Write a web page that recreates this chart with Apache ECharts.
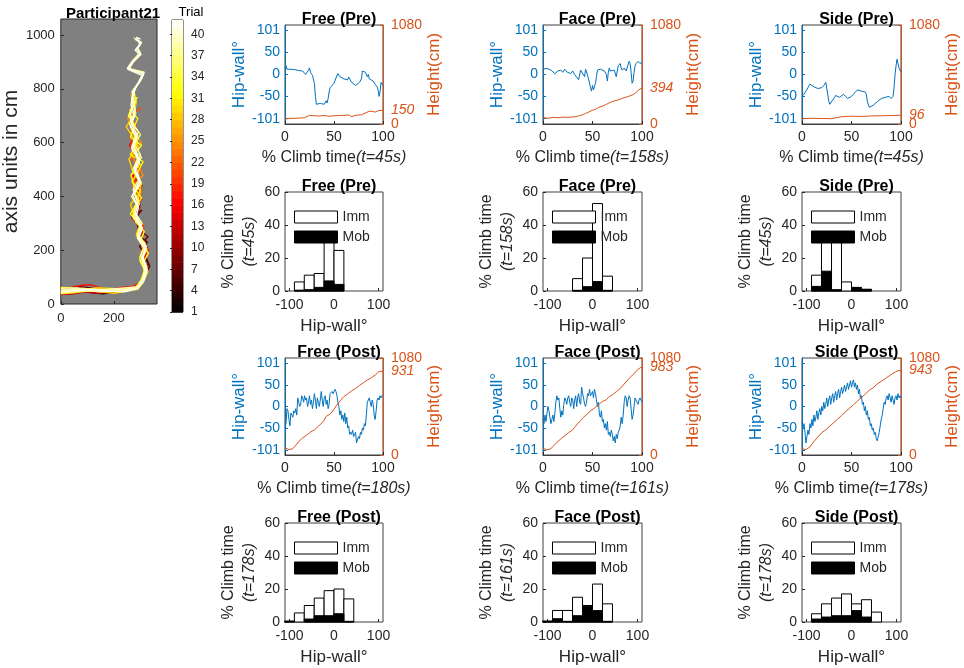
<!DOCTYPE html>
<html><head><meta charset="utf-8">
<script src="https://cdn.jsdelivr.net/npm/echarts@6/dist/echarts.min.js"></script>
<style>html,body{margin:0;padding:0;background:#fff}#c{width:964px;height:668px}</style>
</head><body><div id="c"></div><script>
// ---------------- DATA ----------------
// Trajectories (x, y in cm) with their trial numbers
const trajTrials = [3, 8, 13, 17, 21, 25, 29, 31, 33, 35, 37, 39, 40, 42];
const traj3 = [[0,40],[40,45],[80,50],[120,42],[160,38],[200,45],[240,50],[280,55],[300,75],[315,110],[330,150],[305,190],[325,230],[285,260],[300,300],[275,330],[298,370],[270,400]];
const traj8 = [[0,55],[30,58],[60,65],[100,62],[140,55],[180,50],[220,55],[260,60],[295,70],[310,100],[335,140],[318,180],[296,215],[328,250],[292,280],[282,320],[305,350],[268,330],[300,410]];
const traj13 = [[0,35],[50,38],[90,45],[130,40],[170,42],[210,48],[250,52],[290,58],[312,90],[322,130],[300,170],[326,210],[286,250],[308,290],[266,320],[298,360],[282,400],[306,440],[272,470],[290,520]];
const traj17 = [[0,60],[40,62],[80,70],[110,72],[150,60],[190,55],[230,62],[270,65],[300,80],[320,120],[306,160],[330,200],[296,240],[312,280],[276,310],[270,350],[305,390],[288,430],[266,470],[298,510],[278,560],[258,590],[290,640]];
const traj21 = [[0,45],[40,48],[80,52],[120,55],[160,48],[200,50],[240,58],[280,62],[305,85],[318,125],[298,165],[322,200],[292,245],[312,290],[272,330],[292,380],[304,420],[276,460],[302,500],[266,540],[288,580],[260,620],[284,660],[256,700],[305,730]];
const traj25 = [[0,50],[40,55],[90,58],[140,50],[190,45],[240,52],[285,60],[308,95],[325,140],[298,185],[320,225],[284,265],[304,300],[266,340],[292,390],[272,440],[310,480],[284,520],[262,560],[304,600],[268,640],[252,690],[280,740],[262,780]];
const traj29 = [[0,38],[50,42],[100,48],[150,45],[200,40],[250,48],[290,55],[310,80],[328,120],[302,160],[318,210],[288,250],[302,290],[276,330],[262,370],[294,410],[304,450],[272,490],[256,540],[294,580],[272,620],[246,660],[274,700],[284,750],[268,790]];
const traj31 = [[0,62],[40,60],[90,55],[140,60],[190,58],[240,55],[282,62],[302,90],[316,130],[296,170],[314,215],[284,255],[298,295],[262,335],[286,375],[300,420],[268,455],[292,495],[310,530],[262,555],[288,600],[270,645],[290,690],[260,720],[284,760]];
const traj33 = [[0,48],[40,52],[80,58],[130,55],[180,50],[230,55],[275,58],[300,70],[318,105],[308,150],[330,190],[298,230],[314,270],[282,305],[272,350],[304,395],[278,430],[264,480],[298,520],[278,560],[304,590],[262,620],[278,665],[254,700],[274,745],[288,770]];
const traj35 = [[0,40],[50,44],[100,52],[150,50],[200,46],[250,50],[290,60],[306,85],[322,128],[304,168],[324,205],[292,248],[300,290],[270,328],[296,372],[278,412],[302,452],[270,500],[292,540],[276,590],[300,630],[272,668],[262,710],[282,752],[276,790]];
const traj37 = [[0,42],[40,45],[90,48],[140,52],[190,48],[240,50],[285,55],[305,80],[322,115],[298,160],[320,195],[292,240],[306,285],[272,320],[288,365],[266,400],[298,445],[278,500],[304,545],[266,580],[282,630],[258,670],[282,710],[266,760],[276,800],[300,830],[312,860],[252,878],[270,905],[298,935],[285,948],[300,970],[275,990]];
const traj39 = [[0,58],[60,60],[120,52],[180,55],[240,60],[288,64],[308,95],[320,140],[300,178],[318,220],[290,260],[306,300],[276,345],[290,385],[272,425],[296,465],[282,510],[300,555],[274,600],[292,640],[264,680],[280,720],[270,770],[282,805],[304,838],[314,862],[256,874],[274,902],[302,928],[290,952],[304,972],[282,982]];
const traj40 = [[0,52],[50,55],[100,50],[150,45],[200,52],[250,55],[290,60],[310,90],[318,135],[305,175],[322,215],[290,255],[300,295],[280,335],[290,375],[275,415],[298,460],[275,505],[290,545],[272,590],[290,625],[268,665],[260,705],[275,745],[268,790],[290,820],[305,850],[255,872],[272,900],[300,930],[288,950],[302,975],[280,985]];
const traj42 = [[0,45],[60,50],[120,55],[180,48],[240,45],[290,58],[312,85],[325,130],[310,170],[318,210],[288,245],[308,280],[282,320],[292,360],[270,405],[300,450],[278,495],[296,535],[268,575],[285,620],[262,660],[278,700],[264,740],[272,785],[285,810],[312,855],[250,875],[265,895],[296,928],[280,945],[298,965],[285,992],[300,985]];
const trajectories = [traj3, traj8, traj13, traj17, traj21, traj25, traj29, traj31, traj33, traj35, traj37, traj39, traj40, traj42];

// colour bar levels
const trialLevels = [1,2,3,4,5,6,7,8,9,10,11,12,13,14,15,16,17,18,19,20,21,22,23,24,25,26,27,28,29,30,31,32,33,34,35,36,37,38,39,40,41];

// Hip-wall angle (deg) vs % climb time
const hipFreePre = [[0,15],[1,20],[2,12],[4,10],[6,12],[8,10],[10,11],[12,10],[14,9],[16,7],[18,8],[20,5],[21,0],[22,3],[24,10],[25,15],[26,5],[28,-2],[29,-5],[30,-20],[31,-50],[32,-68],[34,-70],[36,-66],[38,-66],[40,-68],[42,-60],[43,-65],[44,-55],[45,-40],[46,-30],[47,-28],[48,-30],[50,-20],[52,-8],[54,2],[55,-2],[56,-5],[58,-8],[60,-10],[62,-8],[64,-12],[65,-6],[66,-10],[68,-18],[70,-15],[72,-25],[74,-22],[76,-18],[78,-10],[79,8],[80,10],[82,5],[84,-5],[85,0],[86,-10],[88,-12],[90,-15],[92,-22],[94,-28],[95,-35],[96,-50],[97,-40],[98,-18],[99,-22],[100,-25]];
const hipFacePre = [[0,12],[2,15],[4,14],[6,12],[8,10],[10,8],[12,2],[14,0],[15,8],[16,5],[18,10],[20,5],[22,12],[24,6],[26,10],[28,2],[30,8],[32,0],[34,-2],[36,-12],[38,10],[40,8],[42,-5],[43,12],[44,6],[46,-10],[48,-30],[49,-38],[50,-25],[51,-35],[52,-37],[53,-20],[54,-5],[55,10],[56,8],[58,12],[60,10],[62,8],[64,0],[65,-15],[66,5],[67,15],[68,8],[70,5],[72,10],[74,-5],[76,20],[78,25],[79,15],[80,10],[82,15],[84,8],[86,10],[87,30],[88,25],[89,5],[90,-20],[91,-15],[92,5],[93,20],[94,25],[96,30],[98,25],[100,28]];
const hipSidePre = [[0,-50],[2,-45],[4,-38],[6,-30],[8,-22],[9,-20],[10,-25],[12,-28],[14,-30],[16,-32],[18,-35],[20,-30],[22,-25],[24,-18],[25,-22],[26,-45],[27,-60],[28,-68],[30,-70],[32,-55],[34,-48],[36,-45],[38,-52],[40,-48],[42,-45],[44,-50],[46,-55],[48,-58],[50,-50],[52,-45],[54,-40],[56,-35],[58,-32],[60,-38],[62,-42],[64,-40],[65,-45],[66,-62],[68,-75],[70,-72],[72,-70],[74,-68],[76,-62],[78,-65],[80,-55],[82,-58],[84,-52],[86,-55],[88,-50],[90,-55],[92,-50],[93,-30],[94,0],[95,20],[96,35],[97,25],[98,15],[100,5]];
const hipFreePost = [[0,-50],[1,-40],[2,-5],[3,-10],[4,-30],[5,-45],[6,-15],[7,-20],[8,-25],[9,-10],[10,-15],[11,-5],[12,-20],[13,20],[14,10],[15,0],[16,5],[17,25],[18,20],[19,10],[20,25],[21,15],[22,20],[23,0],[24,10],[25,25],[26,5],[27,15],[28,-5],[29,10],[30,30],[31,15],[32,-5],[33,20],[34,10],[35,0],[36,15],[37,35],[38,15],[39,0],[40,20],[41,25],[42,5],[43,15],[44,-5],[45,5],[46,30],[48,35],[49,30],[50,35],[51,40],[52,35],[53,25],[54,10],[55,0],[56,-20],[57,-10],[58,-30],[59,-20],[60,-35],[61,-15],[62,-40],[63,-25],[64,-50],[65,-45],[66,-65],[67,-60],[68,-65],[69,-55],[70,-70],[71,-65],[72,-60],[73,-85],[74,-88],[75,-70],[76,-75],[77,-60],[78,-65],[79,-50],[80,-55],[81,-40],[82,-45],[83,-20],[84,10],[85,15],[86,20],[87,10],[88,0],[89,15],[90,5],[91,-20],[92,-30],[93,-10],[94,15],[95,20],[96,15],[97,25],[98,20],[99,25],[100,28]];
const hipFacePost = [[0,-30],[1,-40],[2,-20],[3,-35],[4,-15],[5,0],[6,-10],[7,-25],[8,-40],[9,-30],[10,-20],[11,-35],[12,-15],[13,10],[14,25],[15,15],[16,20],[17,-5],[18,-25],[19,-10],[20,-20],[21,5],[22,20],[23,15],[24,5],[25,20],[26,25],[27,10],[28,0],[29,20],[30,15],[31,-5],[32,15],[33,25],[34,0],[35,20],[36,30],[37,10],[38,5],[39,45],[40,30],[41,20],[42,5],[43,0],[44,10],[45,30],[46,25],[47,40],[48,25],[49,30],[50,35],[51,20],[52,40],[53,30],[54,15],[55,0],[56,10],[57,-20],[58,-25],[59,-10],[60,-35],[61,-30],[62,-50],[63,-40],[64,-55],[65,-35],[66,-65],[67,-60],[68,-70],[69,-55],[70,-65],[71,-80],[72,-70],[73,-85],[74,-65],[75,-75],[76,-60],[77,-55],[78,-45],[79,-25],[80,-40],[81,-20],[82,10],[83,25],[84,20],[85,0],[86,15],[87,25],[88,20],[89,-5],[90,-30],[91,-20],[92,0],[93,20],[94,15],[95,10],[96,5],[97,15],[98,20],[99,15],[100,10]];
const hipSidePost = [[0,-35],[1,-50],[2,-40],[3,-60],[4,-85],[5,-70],[6,-55],[7,-65],[8,-40],[9,-50],[10,-30],[11,-45],[12,-20],[13,-35],[14,-25],[15,-10],[16,-30],[17,-15],[18,-5],[19,-20],[20,0],[21,-10],[22,10],[23,-5],[24,5],[25,20],[26,0],[27,15],[28,25],[29,5],[30,20],[31,30],[32,10],[33,25],[34,35],[35,15],[36,30],[37,40],[38,20],[39,35],[40,45],[41,30],[42,40],[43,50],[44,35],[45,45],[46,55],[47,40],[48,50],[49,60],[50,45],[51,55],[52,62],[53,45],[54,55],[55,40],[56,50],[57,30],[58,40],[59,20],[60,25],[61,5],[62,10],[63,-10],[64,0],[65,-20],[66,-10],[67,-30],[68,-25],[69,-45],[70,-40],[71,-55],[72,-50],[73,-65],[74,-60],[75,-75],[76,-80],[77,-70],[78,-60],[79,-45],[80,-30],[81,-20],[82,-5],[83,10],[84,5],[85,20],[86,25],[87,15],[88,30],[89,20],[90,10],[91,25],[92,15],[93,5],[94,20],[95,25],[96,15],[97,30],[98,20],[99,25],[100,20]];

// Height (cm) vs % climb time
const hgtFreePre = [[0,55],[2,45],[5,60],[10,62],[15,65],[20,68],[22,75],[25,95],[30,90],[35,88],[40,92],[45,85],[50,90],[55,92],[60,95],[65,98],[68,80],[70,75],[72,95],[78,100],[80,115],[85,135],[88,140],[92,130],[95,145],[100,150]];
const hgtFacePre = [[0,70],[5,62],[10,72],[15,68],[20,75],[25,72],[30,78],[33,80],[36,88],[38,90],[40,100],[43,115],[46,130],[50,150],[53,160],[56,180],[60,195],[63,210],[66,225],[70,245],[73,255],[76,262],[80,280],[83,290],[86,300],[90,315],[93,335],[95,350],[97,375],[99,392],[100,394]];
const hgtSidePre = [[0,55],[3,60],[10,62],[20,60],[30,58],[35,70],[40,80],[50,85],[60,82],[70,88],[80,90],[90,92],[100,96]];
const hgtFreePost = [[0,80],[2,65],[4,60],[6,62],[8,70],[10,90],[12,120],[14,150],[16,170],[18,190],[20,205],[22,220],[24,240],[26,255],[28,265],[30,280],[32,300],[34,320],[36,335],[38,360],[40,390],[42,430],[44,440],[46,455],[48,480],[50,510],[52,545],[54,570],[56,600],[58,625],[60,650],[62,665],[64,680],[66,700],[68,715],[70,725],[72,740],[74,760],[76,775],[78,790],[80,805],[82,820],[84,835],[86,850],[88,860],[90,875],[92,890],[94,910],[96,931],[98,931],[100,931]];
const hgtFacePost = [[0,75],[2,62],[4,58],[6,60],[8,70],[10,95],[12,115],[14,140],[16,160],[18,180],[20,200],[22,215],[24,230],[26,250],[28,265],[30,280],[32,310],[34,330],[36,360],[38,385],[40,410],[42,430],[44,450],[46,470],[48,490],[50,510],[52,525],[54,545],[56,560],[58,580],[60,595],[62,605],[64,615],[66,640],[68,660],[70,670],[72,690],[74,705],[76,720],[78,740],[80,765],[82,790],[84,810],[86,840],[88,865],[90,885],[92,905],[94,930],[96,955],[98,975],[100,983]];
const hgtSidePost = [[0,70],[4,60],[8,90],[12,150],[16,200],[20,250],[24,280],[28,320],[32,360],[36,400],[40,440],[44,480],[48,520],[52,560],[56,600],[60,640],[64,680],[68,720],[72,750],[76,790],[80,820],[84,850],[88,880],[92,910],[96,935],[100,943]];

// Histograms: bin edges (deg) and % climb time per bin
const binEdges = [-111.1,-88.9,-66.7,-44.4,-22.2,0,22.2,44.4,66.7,88.9,111.1];
const immFreePre = [0,5.5,9.6,10.6,36,24.6,0,0,0,0];
const mobFreePre = [0,0.5,0.8,2.2,6.1,4,0,0,0,0];
const immFacePre = [0,0,0,7.5,20,53,9,0,0,0];
const mobFacePre = [0,0,0,0.4,2.6,5.7,0.4,0,0,0];
const immSidePre = [0,9.6,33,32,5.5,2.2,1,0,0,0];
const mobSidePre = [0,2.8,12,0.8,0,2,1,0,0,0];
const immFreePost = [0.5,5.5,10,14.5,19,20,14,0,0,0];
const mobFreePost = [0.5,0,1.8,3.8,3.8,5,0.4,0,0,0];
const immFacePost = [0.5,7,7,15,10,23,11,0,0,0];
const mobFacePost = [0.5,2,0.4,3.8,9.5,6.9,0.4,0,0,0];
const immSidePost = [0,5,11,14.5,17,11,13.5,6,0,0];
const mobSidePost = [0,1.8,3,3.8,3.8,6.9,3,0,0,0];

const panelTitles = ['Free (Pre)','Face (Pre)','Side (Pre)','Free (Post)','Face (Post)','Side (Post)'];
const lineDurations = ['45s','158s','45s','180s','161s','178s'];
const histDurations = ['45s','158s','45s','178s','161s','178s'];
const hipTicks = [-101,-50,0,50,101];
const heightTicks = [0,1080];
const histXTicks = [-100,0,100];

const hipSeries = [hipFreePre, hipFacePre, hipSidePre, hipFreePost, hipFacePost, hipSidePost];
const hgtSeries = [hgtFreePre, hgtFacePre, hgtSidePre, hgtFreePost, hgtFacePost, hgtSidePost];
const immSeries = [immFreePre, immFacePre, immSidePre, immFreePost, immFacePost, immSidePost];
const mobSeries = [mobFreePre, mobFacePre, mobSidePre, mobFreePost, mobFacePost, mobSidePost];

// ---------------- CHART ----------------
const FONT = '"Liberation Sans", Arial, Helvetica, sans-serif';
const BLUE = '#0072BD', ORANGE = '#D95319', DARK = '#262626';
const plain = v => String(v);
function clamp(v){return Math.max(0, Math.min(1, v));}
function hot(trial){
  const t = clamp((trial - 1) / 41);
  const r = clamp(t / 0.375), g = clamp((t - 0.375) / 0.375), b = clamp((t - 0.75) / 0.25);
  return 'rgb(' + Math.round(r*255) + ',' + Math.round(g*255) + ',' + Math.round(b*255) + ')';
}

const grids = [], xAxes = [], yAxes = [], series = [], titles = [], legends = [];
const tickStyle = {inside: true, length: 3, lineStyle: {color: DARK}};

// --- trajectory panel
let gi = grids.push({left: 59, top: 19, width: 98, height: 285, show: true, backgroundColor: '#808080', borderColor: DARK, borderWidth: 1}) - 1;
let xi = xAxes.push({gridIndex: gi, type: 'value', min: 0, max: 362, interval: 200,
  axisLabel: {showMaxLabel: false, fontSize: 13, color: DARK, margin: 8, fontFamily: FONT, formatter: plain},
  axisLine: {show: false, onZero: false}, axisTick: tickStyle, splitLine: {show: false}}) - 1;
let yi = yAxes.push({gridIndex: gi, type: 'value', min: 0, max: 1060, interval: 200,
  axisLabel: {showMaxLabel: false, fontSize: 13, color: DARK, margin: 6, fontFamily: FONT, formatter: plain},
  axisLine: {show: false, onZero: false}, axisTick: tickStyle, splitLine: {show: false},
  name: 'axis units in cm', nameLocation: 'middle', nameGap: 36,
  nameTextStyle: {fontSize: 21, color: DARK, fontFamily: FONT}}) - 1;
trajectories.forEach((tr, k) => {
  series.push({type: 'line', xAxisIndex: xi, yAxisIndex: yi, data: tr, showSymbol: false,
    lineStyle: {width: 1.4, color: hot(trajTrials[k])}, color: hot(trajTrials[k]), animation: false, silent: true});
});
titles.push({text: 'Participant21', left: 108, top: 1, textAlign: 'center',
  textStyle: {fontSize: 15, fontWeight: 'bold', color: '#000', fontFamily: FONT}});

// --- colour bar
gi = grids.push({left: 172, top: 20, width: 11, height: 292, show: true, borderColor: DARK, borderWidth: 1}) - 1;
xi = xAxes.push({gridIndex: gi, type: 'value', min: 0, max: 1, show: false}) - 1;
yi = yAxes.push({gridIndex: gi, type: 'value', position: 'right', min: 1, max: 42, interval: 3,
  axisLabel: {showMaxLabel: false, fontSize: 12, color: DARK, margin: 8, fontFamily: FONT, formatter: plain},
  axisLine: {show: false}, axisTick: {inside: true, length: 2, lineStyle: {color: DARK}}, splitLine: {show: false}}) - 1;
series.push({type: 'custom', xAxisIndex: xi, yAxisIndex: yi, data: trialLevels, animation: false, silent: true,
  renderItem: function (params, api) {
    const v = api.value(0);
    const p0 = api.coord([0, v + 1]), p1 = api.coord([1, v]);
    return {type: 'rect', shape: {x: p0[0], y: p0[1], width: p1[0] - p0[0], height: p1[1] - p0[1] + 0.6},
      style: {fill: hot(v + 0.5)}};
  }});
titles.push({text: 'Trial', left: 186, top: 1, textAlign: 'center',
  textStyle: {fontSize: 13, fontWeight: 'normal', color: '#000', fontFamily: FONT}});

// --- layout of the small panels
const cols = [285, 543, 802];
const colW = [98, 99, 99];
const lineRows = [{top: 25, h: 99}, {top: 358, h: 97}];
const histRows = [{top: 192, h: 99}, {top: 523, h: 99}];

for (let i = 0; i < 6; i++) {
  const c = i % 3, r = i < 3 ? 0 : 1;
  // line panel
  const L = lineRows[r];
  gi = grids.push({left: cols[c], top: L.top, width: colW[c], height: L.h, show: true, borderColor: '#404040', borderWidth: 1}) - 1;
  xi = xAxes.push({gridIndex: gi, type: 'value', min: 0, max: 100, interval: 50,
    axisLabel: {fontSize: 14, color: DARK, margin: 6, fontFamily: FONT, formatter: plain},
    axisLine: {show: true, onZero: false, lineStyle: {color: '#404040'}}, axisTick: tickStyle, splitLine: {show: false},
    name: '% Climb time{i|(t=' + lineDurations[i] + ')}', nameLocation: 'middle', nameGap: 26,
    nameTextStyle: {fontSize: 16, color: DARK, fontFamily: FONT, rich: {i: {fontStyle: 'italic', fontSize: 16, color: DARK, fontFamily: FONT}}}}) - 1;
  const yl = yAxes.push({gridIndex: gi, type: 'value', position: 'left', min: -113, max: 113,
    axisLabel: {customValues: hipTicks, fontSize: 14, color: BLUE, margin: 5, fontFamily: FONT, formatter: plain},
    axisTick: {customValues: hipTicks, inside: true, length: 3, lineStyle: {color: BLUE}},
    axisLine: {show: true, onZero: false, lineStyle: {color: BLUE}}, splitLine: {show: false},
    name: 'Hip-wall°', nameLocation: 'middle', nameGap: 37,
    nameTextStyle: {fontSize: 17, color: BLUE, fontFamily: FONT}}) - 1;
  const yr = yAxes.push({gridIndex: gi, type: 'value', position: 'right', min: 0, max: 1080,
    axisLabel: {customValues: heightTicks, fontSize: 14, color: ORANGE, margin: 8, fontFamily: FONT, formatter: plain},
    axisTick: {customValues: heightTicks, inside: true, length: 3, lineStyle: {color: ORANGE}},
    axisLine: {show: true, onZero: false, lineStyle: {color: ORANGE}}, splitLine: {show: false},
    name: 'Height(cm)', nameLocation: 'middle', nameGap: 43,
    nameTextStyle: {fontSize: 17, color: ORANGE, fontFamily: FONT}}) - 1;
  series.push({type: 'line', xAxisIndex: xi, yAxisIndex: yl, data: hipSeries[i], showSymbol: false,
    lineStyle: {width: 1, color: BLUE}, color: BLUE, animation: false, silent: true});
  series.push({type: 'line', xAxisIndex: xi, yAxisIndex: yr, data: hgtSeries[i], showSymbol: false,
    lineStyle: {width: 1, color: ORANGE}, color: ORANGE, animation: false, silent: true,
    endLabel: {show: true, formatter: p => String(p.value[1]), color: ORANGE, fontStyle: 'italic', fontSize: 14, distance: 8, fontFamily: FONT}});
  titles.push({text: panelTitles[i], left: cols[c] + colW[c] / 2, top: L.top - 18, textAlign: 'center',
    textStyle: {fontSize: 16, fontWeight: 'bold', color: '#000', fontFamily: FONT}});

  // histogram panel
  const H = histRows[r];
  gi = grids.push({left: cols[c], top: H.top, width: colW[c], height: H.h, show: true, borderColor: '#404040', borderWidth: 1}) - 1;
  xi = xAxes.push({gridIndex: gi, type: 'value', min: -110, max: 110,
    axisLabel: {customValues: histXTicks, fontSize: 14, color: DARK, margin: 7, fontFamily: FONT, formatter: plain},
    axisTick: {customValues: histXTicks, inside: true, length: 3, lineStyle: {color: DARK}},
    axisLine: {show: false, onZero: false}, splitLine: {show: false},
    name: 'Hip-wall°', nameLocation: 'middle', nameGap: 27,
    nameTextStyle: {fontSize: 17, color: DARK, fontFamily: FONT}}) - 1;
  yi = yAxes.push({gridIndex: gi, type: 'value', min: 0, max: 60, interval: 20,
    axisLabel: {fontSize: 14, color: DARK, margin: 5, fontFamily: FONT, formatter: plain},
    axisTick: tickStyle, axisLine: {show: false, onZero: false}, splitLine: {show: false},
    name: '% Climb time\n{i|(t=' + histDurations[i] + ')}', nameLocation: 'middle', nameGap: 15,
    nameTextStyle: {fontSize: 16, lineHeight: 21, color: DARK, fontFamily: FONT,
      rich: {i: {fontStyle: 'italic', fontSize: 16, lineHeight: 21, color: DARK, fontFamily: FONT}}}}) - 1;
  const mk = vals => vals.map((v, k) => [binEdges[k], binEdges[k + 1], v]);
  const render = (fill) => function (params, api) {
    const v = api.value(2);
    if (!v) return null;
    const p0 = api.coord([api.value(0), v]), p1 = api.coord([api.value(1), 0]);
    return {type: 'rect', shape: {x: p0[0], y: p0[1], width: p1[0] - p0[0], height: p1[1] - p0[1]},
      style: {fill: fill, stroke: '#000', lineWidth: 1}};
  };
  series.push({type: 'custom', name: 'Imm', xAxisIndex: xi, yAxisIndex: yi, data: mk(immSeries[i]),
    encode: {x: [0, 1], y: 2},
    renderItem: render('#ffffff'), itemStyle: {color: '#ffffff'}, animation: false, silent: true, z: 2});
  series.push({type: 'custom', name: 'Mob', xAxisIndex: xi, yAxisIndex: yi, data: mk(mobSeries[i]),
    encode: {x: [0, 1], y: 2},
    renderItem: render('#000000'), itemStyle: {color: '#000000'}, animation: false, silent: true, z: 3});
  legends.push({left: cols[c] + 9, top: H.top + 18, orient: 'vertical', itemWidth: 43, itemHeight: 12, itemGap: 6, padding: 0,
    selectedMode: false, textStyle: {fontSize: 14, color: DARK, fontFamily: FONT},
    data: [{name: 'Imm', icon: 'rect', itemStyle: {color: '#ffffff', borderColor: '#000', borderWidth: 1}},
           {name: 'Mob', icon: 'rect', itemStyle: {color: '#000000', borderColor: '#000', borderWidth: 1}}]});
  titles.push({text: panelTitles[i], left: cols[c] + colW[c] / 2, top: H.top - 18, textAlign: 'center',
    textStyle: {fontSize: 16, fontWeight: 'bold', color: '#000', fontFamily: FONT}});
}

const chart = echarts.init(document.getElementById('c'), null, {renderer: 'canvas'});
chart.setOption({
  backgroundColor: '#ffffff',
  animation: false,
  textStyle: {fontFamily: FONT},
  title: titles, legend: legends, grid: grids, xAxis: xAxes, yAxis: yAxes, series: series
});
</script></body></html>
